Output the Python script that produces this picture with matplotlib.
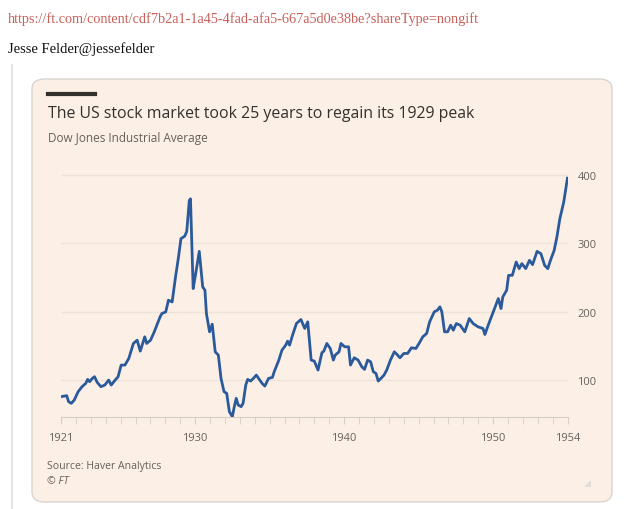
import matplotlib.pyplot as plt
from matplotlib.patches import FancyBboxPatch, Polygon
from matplotlib.lines import Line2D

# Dow Jones Industrial Average
years = [1921.00, 1921.38, 1921.51, 1921.69, 1921.89, 1922.15, 1922.41, 1922.66, 1922.79, 1922.92,
         1923.10, 1923.25, 1923.43, 1923.68, 1923.94, 1924.20, 1924.37, 1924.58, 1924.83, 1925.04,
         1925.29, 1925.55, 1925.86, 1926.11, 1926.32, 1926.62, 1926.75, 1927.01, 1927.26, 1927.65,
         1927.77, 1928.03, 1928.21, 1928.46, 1928.67, 1928.87, 1929.05, 1929.31, 1929.44, 1929.61,
         1929.69, 1929.87, 1930.02, 1930.28, 1930.51, 1930.66, 1930.76, 1930.97, 1931.15, 1931.35,
         1931.56, 1931.74, 1931.94, 1932.12, 1932.30, 1932.50, 1932.63, 1932.76, 1932.89, 1933.09,
         1933.22, 1933.40, 1933.53, 1933.73, 1933.91, 1934.11, 1934.29, 1934.50, 1934.68, 1934.93,
         1935.19, 1935.31, 1935.62, 1935.83, 1936.08, 1936.21, 1936.34, 1936.54, 1936.80, 1937.10,
         1937.36, 1937.56, 1937.79, 1938.00, 1938.25, 1938.51, 1938.64, 1938.84, 1939.07, 1939.28,
         1939.40, 1939.66, 1939.79, 1940.04, 1940.30, 1940.43, 1940.68, 1940.94, 1941.19, 1941.37,
         1941.58, 1941.78, 1941.96, 1942.14, 1942.29, 1942.47, 1942.68, 1942.86, 1943.11, 1943.37,
         1943.55, 1943.75, 1944.01, 1944.26, 1944.52, 1944.82, 1945.03, 1945.28, 1945.54, 1945.74,
         1946.05, 1946.26, 1946.43, 1946.56, 1946.74, 1946.95, 1947.15, 1947.33, 1947.53, 1947.79,
         1948.10, 1948.40, 1948.66, 1948.99, 1949.32, 1949.45, 1949.63, 1950.01, 1950.35, 1950.53,
         1950.65, 1950.91, 1951.04, 1951.29, 1951.55, 1951.75, 1951.93, 1952.19, 1952.44, 1952.65,
         1952.95, 1953.21, 1953.46, 1953.67, 1953.85, 1954.10, 1954.28, 1954.48, 1954.74, 1954.99]
dow = [75.7, 77.2, 68.4, 66.0, 70.8, 83.0, 90.3, 95.1, 101.0, 97.6,
       102.4, 104.9, 96.6, 90.3, 92.7, 100.0, 92.7, 98.5, 104.9, 121.9,
       121.9, 131.6, 153.5, 158.3, 142.3, 163.2, 153.5, 158.3, 170.5, 192.4,
       197.2, 199.7, 216.7, 214.2, 248.3, 277.4, 306.6, 310.5, 317.3, 362.5,
       364.9, 233.7, 253.1, 288.1, 236.1, 231.3, 197.2, 170.5, 181.7, 141.3,
       136.5, 102.4, 83.0, 80.6, 53.8, 46.5, 61.1, 73.3, 63.5, 61.1,
       66.0, 92.7, 101.0, 98.5, 102.4, 107.3, 101.5, 95.1, 91.2, 102.4,
       103.9, 112.2, 129.2, 143.8, 151.0, 156.9, 151.0, 165.6, 182.6, 188.5,
       175.4, 185.1, 129.2, 127.7, 114.6, 139.9, 142.3, 153.5, 146.2, 129.2,
       136.5, 141.3, 153.5, 148.6, 148.6, 121.9, 132.6, 129.2, 119.4, 115.6,
       129.2, 126.7, 112.2, 109.7, 98.5, 102.4, 107.3, 114.6, 129.2, 141.3,
       137.4, 132.6, 138.9, 138.9, 147.2, 146.2, 153.5, 163.2, 168.1, 185.1,
       199.7, 202.1, 207.0, 199.7, 170.5, 170.5, 180.2, 172.9, 182.6, 180.2,
       170.5, 189.9, 182.6, 177.8, 175.4, 166.6, 177.8, 199.7, 219.1, 204.5,
       221.5, 231.3, 253.1, 253.1, 272.6, 262.9, 270.2, 262.9, 275.0, 268.7,
       288.1, 284.7, 267.7, 262.9, 275.0, 289.6, 309.0, 335.8, 360.1, 395.1]

year_ticks = [1921, 1930, 1940, 1950, 1955]
year_labels = ['1921', '1930', '1940', '1950', '1954']
value_ticks = [100, 200, 300, 400]

W, H = 628, 510
paper = '#fcf0e6'
grey = '#66605c'
line_blue = '#2a5a9b'


def fx(x):
    return x / W


def fy(y):
    return 1 - y / H


fig = plt.figure(figsize=(W / 100, H / 100), dpi=100)
fig.patch.set_facecolor('white')

# page text above the card
fig.text(fx(8), fy(19), 'https://ft.com/content/cdf7b2a1-1a45-4fad-afa5-667a5d0e38be?shareType=nongift',
         color='#c8605a', fontsize=10.3, family='Liberation Serif', va='center', ha='left')
fig.text(fx(8), fy(49), 'Jesse Felder@jessefelder', color='#111111', fontsize=10.5,
         family='Liberation Serif', va='center', ha='left')

# blockquote rule
fig.add_artist(Line2D([fx(12), fx(12)], [fy(66), fy(510)], color='#e4e4e4', lw=1.5, zorder=-2))

# card
card = FancyBboxPatch((fx(32), fy(503)), fx(612 - 32), (503 - 80) / H,
                      boxstyle='round,pad=0,rounding_size=0.02',
                      transform=fig.transFigure, facecolor=paper, edgecolor='#d8d4d0', lw=1,
                      zorder=-1)
fig.add_artist(card)
fig.add_artist(Line2D([fx(48), fx(95)], [fy(95), fy(95)], color='#33302e', lw=3))
# little resize handle in the corner
fig.add_artist(Polygon([[fx(584), fy(488)], [fx(591), fy(481)], [fx(591), fy(488)]],
                       closed=True, transform=fig.transFigure, facecolor='#e3ddd7',
                       edgecolor='none'))

fig.text(fx(48), fy(114), 'The US stock market took 25 years to regain its 1929 peak',
         color='#33302e', fontsize=11.4, family='Open Sans', va='center', ha='left')
fig.text(fx(48), fy(139), 'Dow Jones Industrial Average', color=grey, fontsize=8.5,
         family='Open Sans', va='center', ha='left')
fig.text(fx(47), fy(467), 'Source: Haver Analytics', color=grey, fontsize=7.6,
         family='Open Sans', va='center', ha='left')
fig.text(fx(47), fy(482), '© FT', color=grey, fontsize=7.6, style='italic',
         family='Open Sans', va='center', ha='left')

# chart
ax = fig.add_axes([fx(61), fy(418), fx(567.6 - 61), (418 - 172.4) / H])
ax.set_zorder(2)
ax.set_facecolor('none')
ax.plot(years, dow, color=line_blue, lw=2, solid_joinstyle='round', zorder=3)
ax.set_xlim(1921, 1955)
ax.set_ylim(46, 405)

for v in value_ticks:
    ax.axhline(v, color='#eee3d9', lw=1, zorder=1)

for s in ['top', 'left', 'right']:
    ax.spines[s].set_visible(False)
ax.spines['bottom'].set_color('#d6cdc4')

ax.set_xticks(year_ticks)
ax.set_xticklabels(year_labels)
ax.set_xticks(range(1921, 1956), minor=True)
ax.tick_params(axis='x', which='both', length=5, color='#d6cdc4', labelsize=8,
               labelcolor=grey, pad=6)
ax.yaxis.tick_right()
ax.set_yticks(value_ticks)
ax.tick_params(axis='y', length=0, labelsize=8, labelcolor=grey, pad=7)
for lab in ax.get_xticklabels() + ax.get_yticklabels():
    lab.set_family('Open Sans')

fig.savefig('out.png', dpi=100, facecolor='white')
